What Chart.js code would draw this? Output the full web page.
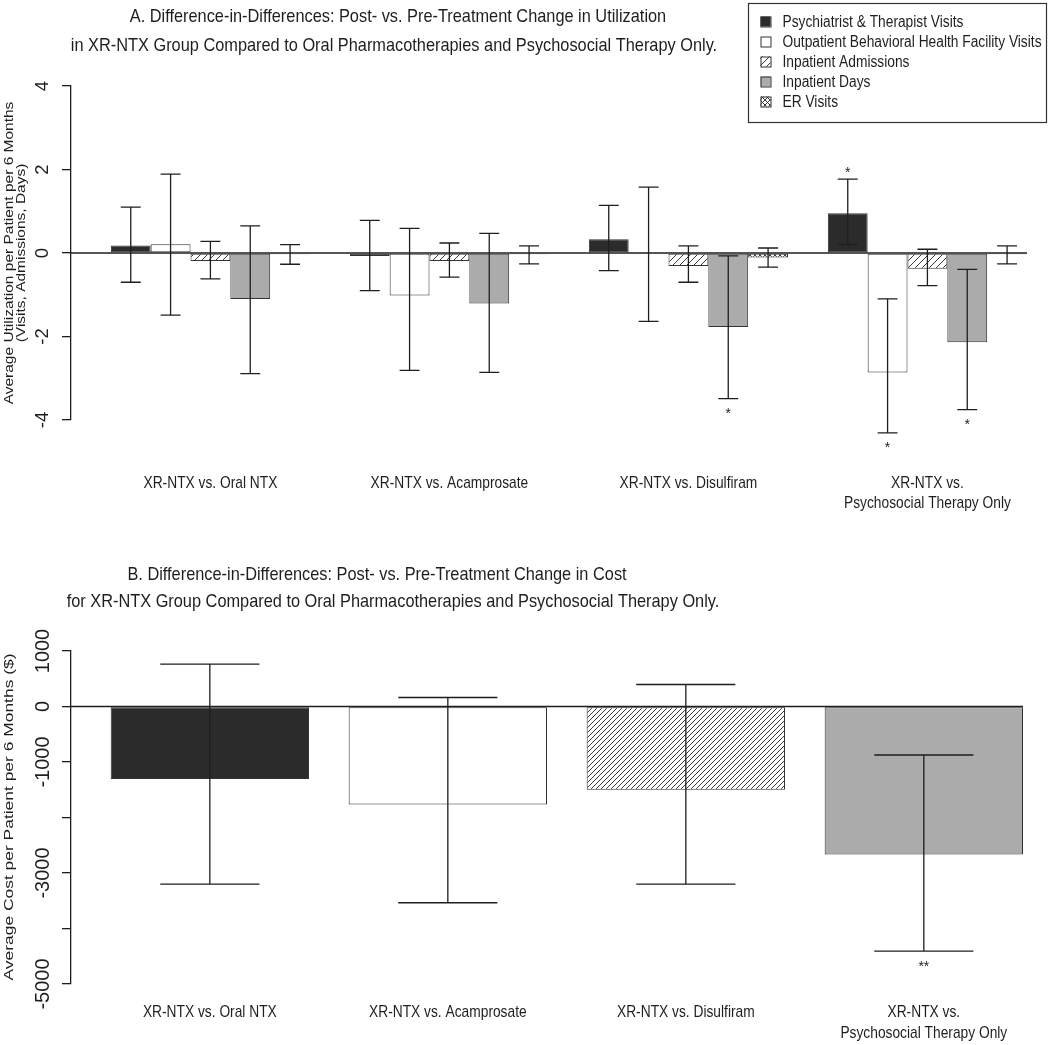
<!DOCTYPE html>
<html>
<head>
<meta charset="utf-8">
<script src="https://cdn.jsdelivr.net/npm/chart.js@4.4.1/dist/chart.umd.min.js"></script>
<style>
  body { margin: 0; background: #fff; }
  .box { position: absolute; left: 0; width: 1050px; }
</style>
</head>
<body>
<div class="box" style="top:0;height:520px"><canvas id="chartA"></canvas></div>
<div class="box" style="top:520px;height:525px"><canvas id="chartB"></canvas></div>
<script>
// categories and series
const groupLabels = [['XR-NTX vs. Oral NTX'], ['XR-NTX vs. Acamprosate'], ['XR-NTX vs. Disulfiram'], ['XR-NTX vs.', 'Psychosocial Therapy Only']];
const seriesLabels = ['Psychiatrist & Therapist Visits', 'Outpatient Behavioral Health Facility Visits', 'Inpatient Admissions', 'Inpatient Days', 'ER Visits'];

// panel A: utilization difference-in-differences (estimate, 95% CI)
const psychVisits    = [0.18, -0.07, 0.33, 0.95];
const psychLow       = [-0.70, -0.90, -0.42, 0.20];
const psychHigh      = [1.10, 0.78, 1.14, 1.77];
const psychStars     = ['', '', '', '*'];
const outptVisits    = [0.21, -1.02, -0.01, -2.86];
const outptLow       = [-1.49, -2.81, -1.64, -4.31];
const outptHigh      = [1.89, 0.59, 1.58, -1.10];
const outptStars     = ['', '', '', '*'];
const inptAdmits     = [-0.19, -0.19, -0.31, -0.38];
const inptAdmitsLow  = [-0.62, -0.58, -0.70, -0.78];
const inptAdmitsHigh = [0.28, 0.24, 0.17, 0.09];
const inptAdmitsStars = ['', '', '', ''];
const inptDays       = [-1.10, -1.21, -1.77, -2.14];
const inptDaysLow    = [-2.89, -2.86, -3.49, -3.75];
const inptDaysHigh   = [0.65, 0.47, -0.07, -0.39];
const inptDaysStars  = ['', '', '*', '*'];
const erVisits       = [-0.03, -0.03, -0.11, -0.03];
const erLow          = [-0.27, -0.26, -0.34, -0.26];
const erHigh         = [0.20, 0.17, 0.12, 0.17];
const erStars        = ['', '', '', ''];
const useTickLabels  = ['4', '2', '0', '-2', '-4'];

// panel B: cost difference-in-differences ($)
const costDiff  = [-1306, -1768, -1498, -2667];
const costLow   = [-3201, -3536, -3201, -4406];
const costHigh  = [762, 162, 396, -874];
const costStars = ['', '', '', '**'];
const costTickLabels = ['1000', '0', '-1000', '-3000', '-5000'];

const INK = '#1e1e1e';
const SANS = '"Liberation Sans", Arial, sans-serif';

function makeHatch(ctx, size, cross) {
    const c = document.createElement('canvas');
    c.width = size; c.height = size;
    const g = c.getContext('2d');
    g.fillStyle = '#fff';
    g.fillRect(0, 0, size, size);
    g.strokeStyle = '#3a3a3a';
    g.lineWidth = 1;
    g.beginPath();
    g.moveTo(-1, size + 1); g.lineTo(size + 1, -1);
    g.moveTo(-1, 1); g.lineTo(1, -1);
    g.moveTo(size - 1, size + 1); g.lineTo(size + 1, size - 1);
    if (cross) {
        g.moveTo(-1, -1); g.lineTo(size + 1, size + 1);
        g.moveTo(size - 1, -1); g.lineTo(size + 1, 1);
        g.moveTo(-1, size - 1); g.lineTo(1, size + 1);
    }
    g.stroke();
    return ctx.createPattern(c, 'repeat');
}

// text squeezed or stretched along its own direction (the original uses a narrow face)
function drawText(ctx, t, x, y, sx, rot) {
    ctx.save();
    ctx.translate(x, y);
    if (rot) ctx.rotate(rot);
    ctx.scale(sx, 1);
    ctx.fillText(t, 0, 0);
    ctx.restore();
}

// zero line, error bars, stars, titles, rotated tick labels, category labels, legend
const rPlot = {
    id: 'rPlot',
    afterDatasetsDraw(chart, args, o) {
        const ctx = chart.ctx, ys = chart.scales.y, area = chart.chartArea;
        ctx.save();
        ctx.strokeStyle = INK;
        ctx.lineWidth = 1.3;
        const y0 = ys.getPixelForValue(0);
        ctx.beginPath();
        ctx.moveTo(area.left, y0); ctx.lineTo(area.right, y0);
        ctx.stroke();

        ctx.fillStyle = INK;
        ctx.font = '14px ' + SANS;
        ctx.textAlign = 'center';
        ctx.textBaseline = 'alphabetic';
        chart.data.datasets.forEach((ds, i) => {
            chart.getDatasetMeta(i).data.forEach((bar, j) => {
                const lo = ys.getPixelForValue(ds.errLow[j]);
                const hi = ys.getPixelForValue(ds.errHigh[j]);
                const half = bar.width / 4;
                ctx.beginPath();
                ctx.moveTo(bar.x, lo); ctx.lineTo(bar.x, hi);
                ctx.moveTo(bar.x - half, lo); ctx.lineTo(bar.x + half, lo);
                ctx.moveTo(bar.x - half, hi); ctx.lineTo(bar.x + half, hi);
                ctx.stroke();
                if (ds.stars[j]) {
                    const up = ds.data[j].y > 0;
                    const yy = up ? hi - 10 : lo + o.starGap;
                    ctx.fillText(ds.stars[j], bar.x, yy + 8);
                }
            });
        });
        ctx.restore();
    },
    afterDraw(chart, args, o) {
        const ctx = chart.ctx, ys = chart.scales.y, xs = chart.scales.x, area = chart.chartArea;
        ctx.save();
        ctx.fillStyle = INK;
        ctx.textAlign = 'center';
        ctx.textBaseline = 'middle';

        // title
        ctx.font = o.titleFont;
        o.title.forEach((t, k) => drawText(ctx, t, o.titleX[k], o.titleY[k], o.narrow));

        // category labels
        ctx.font = o.catFont;
        groupLabels.forEach((lines, i) => {
            const x = xs.getPixelForValue(o.groupPos(i));
            lines.forEach((t, k) => drawText(ctx, t, x, o.catY + k * o.catStep, o.catNarrow));
        });

        // y tick labels, parallel to the axis
        ctx.font = o.tickFont;
        o.tickLabels.forEach(t => {
            drawText(ctx, t, area.left - 28, ys.getPixelForValue(Number(t)), 1, -Math.PI / 2);
        });

        // y axis title
        ctx.font = o.yTitleFont;
        o.yTitle.forEach((t, k) => drawText(ctx, t, o.yTitleX[k], o.yTitleY, o.yTitleStretch, -Math.PI / 2));

        // legend box
        if (o.legend) {
            const L = o.legend;
            ctx.strokeStyle = '#333';
            ctx.lineWidth = 1.2;
            ctx.strokeRect(L.x, L.y, L.w, L.h);
            ctx.font = L.font;
            ctx.textAlign = 'left';
            chart.data.datasets.forEach((ds, i) => {
                const cy = L.y + L.first + i * L.step;
                ctx.fillStyle = ds.backgroundColor;
                ctx.fillRect(L.x + 12, cy - 5, 10, 10);
                ctx.lineWidth = 1;
                ctx.strokeStyle = '#333';
                ctx.strokeRect(L.x + 12.5, cy - 4.5, 10, 10);
                ctx.fillStyle = INK;
                drawText(ctx, ds.label, L.x + 34, cy + 1, L.narrow);
            });
        }
        ctx.restore();
    }
};

// ---------- panel A ----------
const ctxA = document.getElementById('chartA').getContext('2d');
const fillsA = ['#2b2b2b', '#ffffff', makeHatch(ctxA, 7, false), '#ababab', makeHatch(ctxA, 5, true)];
const groupPosA = i => i * 6 + 3.5;

function seriesA(k, values, low, high, stars) {
    return {
        label: seriesLabels[k],
        data: values.map((v, i) => ({ x: groupPosA(i), y: v })),
        errLow: low, errHigh: high, stars: stars,
        backgroundColor: fillsA[k],
        borderColor: '#333',
        borderWidth: 1,
        borderSkipped: false
    };
}

let chartA = new Chart(ctxA, {
    type: 'bar',
    data: {
        datasets: [
            seriesA(0, psychVisits, psychLow, psychHigh, psychStars),
            seriesA(1, outptVisits, outptLow, outptHigh, outptStars),
            seriesA(2, inptAdmits, inptAdmitsLow, inptAdmitsHigh, inptAdmitsStars),
            seriesA(3, inptDays, inptDaysLow, inptDaysHigh, inptDaysStars),
            seriesA(4, erVisits, erLow, erHigh, erStars)
        ]
    },
    options: {
        responsive: true,
        maintainAspectRatio: false,
        animation: false,
        categoryPercentage: 5 / 6,
        barPercentage: 1,
        layout: { padding: { left: 0, right: 23, top: 86, bottom: 100 } },
        scales: {
            x: {
                type: 'linear', min: 0, max: 24, display: false, offset: false,
                afterBuildTicks: s => { s.ticks = [{ value: 0 }, { value: 24 }]; }
            },
            y: {
                min: -4, max: 4,
                ticks: { stepSize: 2, display: false },
                grid: { drawOnChartArea: false, drawTicks: true, tickLength: 9, color: INK, lineWidth: 1.3 },
                border: { display: true, color: INK, width: 1.3 },
                afterFit: s => { s.width = 71; }
            }
        },
        plugins: {
            legend: { display: false },
            tooltip: { enabled: false },
            rPlot: {
                starGap: 11,
                title: ['A. Difference-in-Differences: Post- vs. Pre-Treatment Change in Utilization',
                        'in XR-NTX Group Compared to Oral Pharmacotherapies and Psychosocial Therapy Only.'],
                titleX: [398, 394], titleY: [17, 46],
                titleFont: '19px ' + SANS, narrow: 0.86,
                groupPos: groupPosA,
                catFont: '17px ' + SANS, catNarrow: 0.81, catY: 483, catStep: 20,
                tickLabels: useTickLabels, tickFont: '18.5px ' + SANS,
                yTitle: ['Average Utilization per Patient per 6 Months', '(Visits, Admissions, Days)'],
                yTitleX: [10, 22], yTitleY: 253,
                yTitleFont: '12px ' + SANS, yTitleStretch: 1.29,
                legend: { x: 748.5, y: 3.5, w: 298, h: 119, first: 18, step: 20, font: '16px ' + SANS, narrow: 0.86 }
            }
        }
    },
    plugins: [rPlot]
});

// ---------- panel B ----------
const ctxB = document.getElementById('chartB').getContext('2d');
const fillsB = ['#2b2b2b', '#ffffff', makeHatch(ctxB, 5, false), '#ababab'];
const groupPosB = i => i * 1.2 + 0.7;

let chartB = new Chart(ctxB, {
    type: 'bar',
    data: {
        datasets: [{
            label: 'Cost',
            data: costDiff.map((v, i) => ({ x: groupPosB(i), y: v })),
            errLow: costLow, errHigh: costHigh, stars: costStars,
            backgroundColor: fillsB,
            borderColor: '#333',
            borderWidth: 1,
            borderSkipped: false
        }]
    },
    options: {
        responsive: true,
        maintainAspectRatio: false,
        animation: false,
        categoryPercentage: 1 / 1.2,
        barPercentage: 1,
        layout: { padding: { left: 0, right: 27, top: 131, bottom: 61 } },
        scales: {
            x: {
                type: 'linear', min: 0, max: 4.8, display: false, offset: false,
                afterBuildTicks: s => { s.ticks = [{ value: 0 }, { value: 4.8 }]; }
            },
            y: {
                min: -5000, max: 1000,
                ticks: { stepSize: 1000, display: false },
                grid: { drawOnChartArea: false, drawTicks: true, tickLength: 9, color: INK, lineWidth: 1.3 },
                border: { display: true, color: INK, width: 1.3 },
                afterFit: s => { s.width = 71; }
            }
        },
        plugins: {
            legend: { display: false },
            tooltip: { enabled: false },
            rPlot: {
                starGap: 12,
                title: ['B. Difference-in-Differences: Post- vs. Pre-Treatment Change in Cost',
                        'for XR-NTX Group Compared to Oral Pharmacotherapies and Psychosocial Therapy Only.'],
                titleX: [377, 393], titleY: [55, 82],
                titleFont: '19px ' + SANS, narrow: 0.86,
                groupPos: groupPosB,
                catFont: '17px ' + SANS, catNarrow: 0.81, catY: 492, catStep: 21,
                tickLabels: costTickLabels, tickFont: '20px ' + SANS,
                yTitle: ['Average Cost per Patient per 6 Months ($)'],
                yTitleX: [9], yTitleY: 297,
                yTitleFont: '13px ' + SANS, yTitleStretch: 1.34,
                legend: null
            }
        }
    },
    plugins: [rPlot]
});
</script>
</body>
</html>
